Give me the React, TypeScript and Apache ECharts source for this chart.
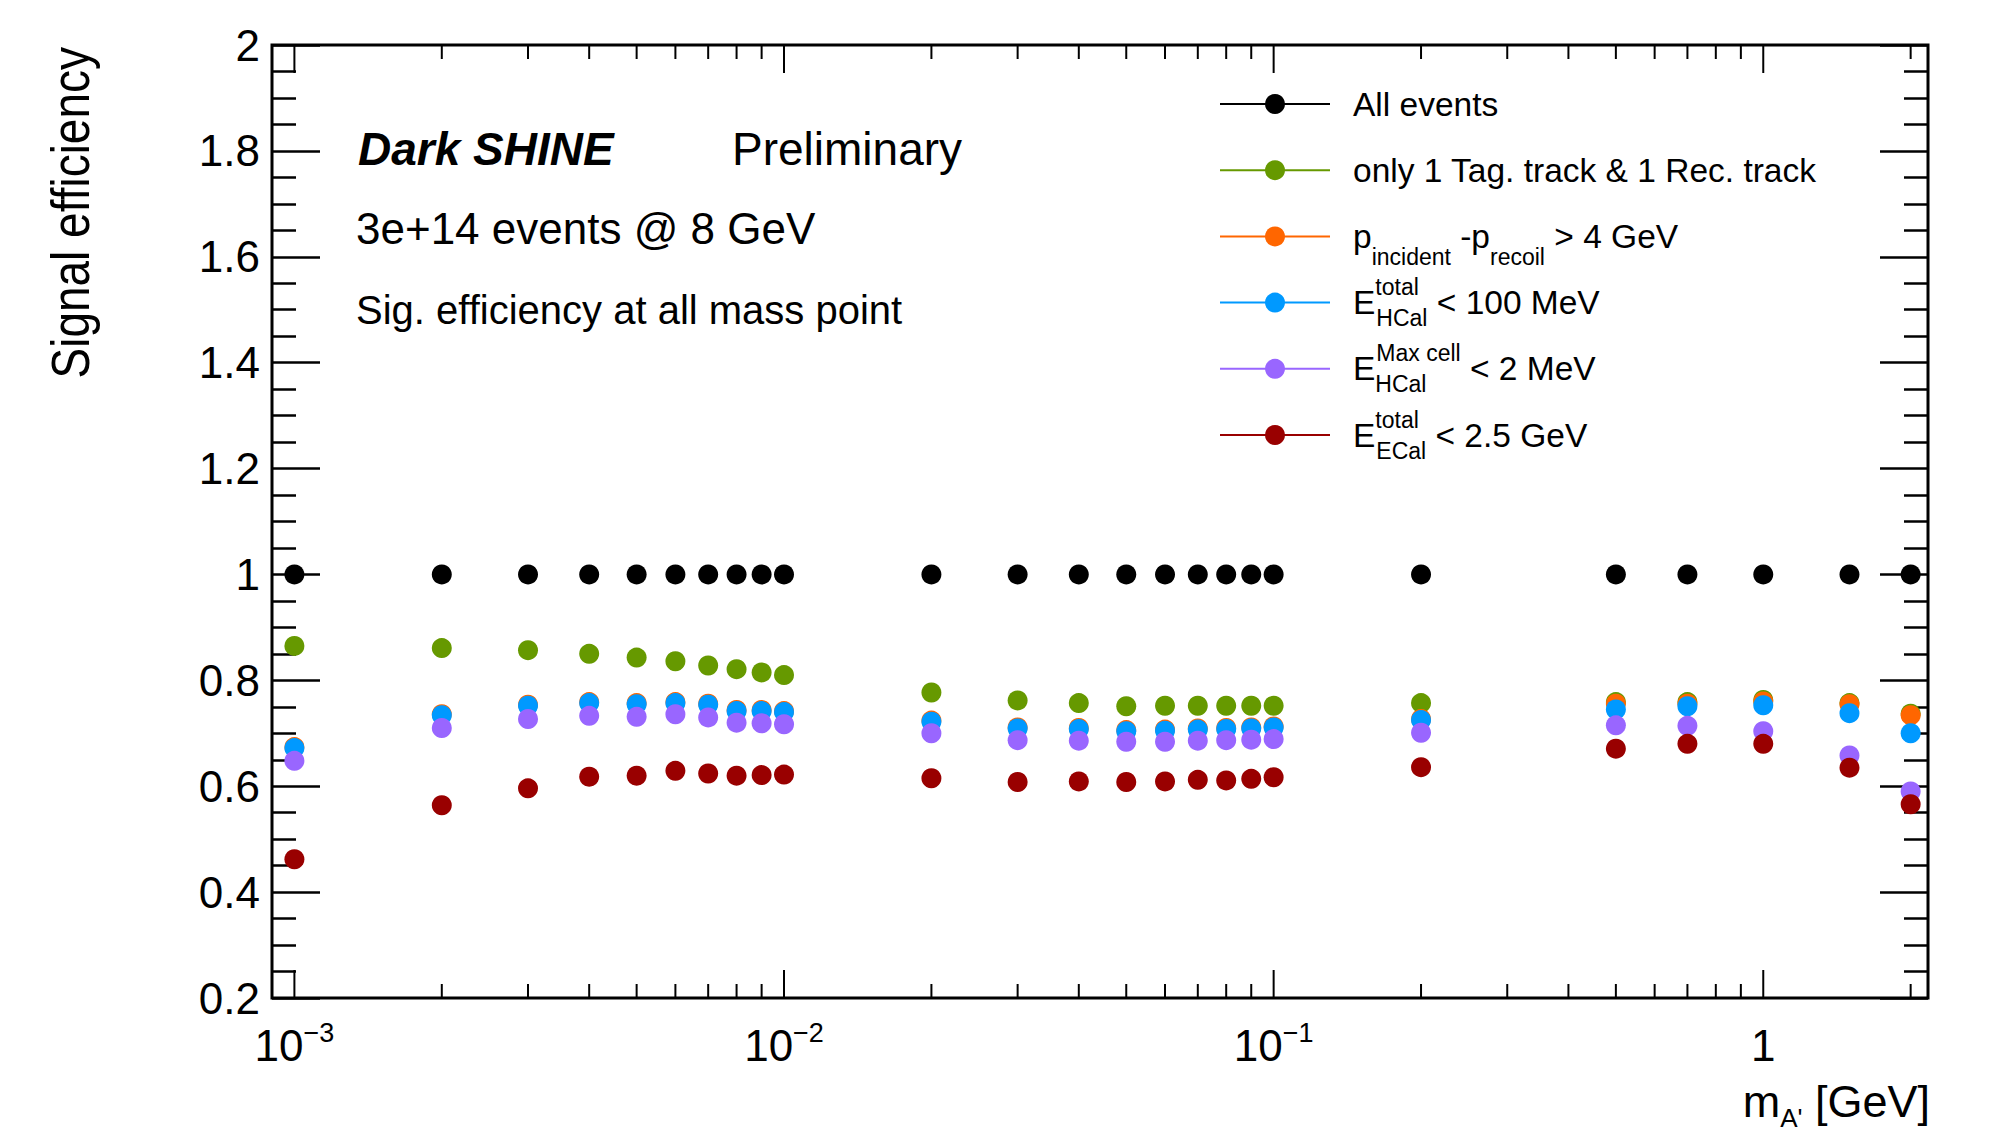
import React, { useEffect, useRef } from 'react';
import * as echarts from 'echarts';

// ---------------- data ----------------
const MASS_GEV = [0.001, 0.002, 0.003, 0.004, 0.005, 0.006, 0.007, 0.008, 0.009, 0.01, 0.02, 0.03, 0.04, 0.05, 0.06, 0.07, 0.08, 0.09, 0.1, 0.2, 0.5, 0.7, 1, 1.5, 2];

const EFF_ALL = [1, 1, 1, 1, 1, 1, 1, 1, 1, 1, 1, 1, 1, 1, 1, 1, 1, 1, 1, 1, 1, 1, 1, 1, 1];
const EFF_TRACK = [0.865, 0.861, 0.857, 0.850, 0.843, 0.836, 0.828, 0.821, 0.815, 0.810, 0.777, 0.762, 0.757, 0.751, 0.752, 0.752, 0.752, 0.752, 0.752, 0.757, 0.759, 0.759, 0.763, 0.757, 0.737];
const EFF_PDIFF = [0.674, 0.736, 0.754, 0.759, 0.757, 0.759, 0.756, 0.744, 0.744, 0.742, 0.724, 0.711, 0.710, 0.706, 0.707, 0.709, 0.710, 0.711, 0.713, 0.727, 0.756, 0.756, 0.760, 0.755, 0.734];
const EFF_HCAL_TOTAL = [0.672, 0.734, 0.752, 0.757, 0.755, 0.757, 0.754, 0.742, 0.742, 0.740, 0.722, 0.709, 0.708, 0.704, 0.705, 0.707, 0.708, 0.709, 0.711, 0.725, 0.745, 0.751, 0.753, 0.738, 0.700];
const EFF_HCAL_MAXCELL = [0.648, 0.710, 0.727, 0.733, 0.731, 0.736, 0.730, 0.720, 0.719, 0.717, 0.700, 0.687, 0.686, 0.684, 0.684, 0.686, 0.687, 0.688, 0.689, 0.701, 0.715, 0.714, 0.704, 0.658, 0.590];
const EFF_ECAL_TOTAL = [0.462, 0.564, 0.596, 0.618, 0.620, 0.629, 0.624, 0.620, 0.621, 0.622, 0.615, 0.608, 0.609, 0.608, 0.609, 0.612, 0.611, 0.614, 0.617, 0.636, 0.671, 0.680, 0.680, 0.635, 0.566];

const SERIES_NAMES = [
  'All events',
  'only 1 Tag. track & 1 Rec. track',
  'p_incident-p_recoil > 4 GeV',
  'E_HCal^total < 100 MeV',
  'E_HCal^Max cell < 2 MeV',
  'E_ECal^total < 2.5 GeV',
];
const LEGEND_LABELS = [
  '{n|All events}',
  '{n|only 1 Tag. track & 1 Rec. track}',
  '{n|p}{sb|incident}{n| -p}{sb|recoil}{n| > 4 GeV}',
  '{m|E}{sp0|total}{sb2|HCal}{m| < 100 MeV}',
  '{m|E}{sb20|HCal}{sp|Max cell}{m| < 2 MeV}',
  '{m|E}{sp0|total}{sb2|ECal}{m| < 2.5 GeV}',
];
const SERIES_VALUES = [EFF_ALL, EFF_TRACK, EFF_PDIFF, EFF_HCAL_TOTAL, EFF_HCAL_MAXCELL, EFF_ECAL_TOTAL];

const X_MAJOR_TICKS = [0.001, 0.01, 0.1, 1];
const X_MINOR_TICKS = [0.002, 0.003, 0.004, 0.005, 0.006, 0.007, 0.008, 0.009, 0.02, 0.03, 0.04, 0.05, 0.06, 0.07, 0.08, 0.09, 0.2, 0.3, 0.4, 0.5, 0.6, 0.7, 0.8, 0.9, 2];

const X_MIN = 0.0009;
const X_MAX = 2.17;
const Y_MIN = 0.2;
const Y_MAX = 2;
const Y_STEP = 0.2;

// ---------------- style ----------------
const COLORS = ['#000000', '#669900', '#ff6600', '#0099ff', '#9966ff', '#990000'];
const FONT = '"Liberation Sans", Arial, Helvetica, sans-serif';
const LEGEND_ROW_CENTERS = [103, 169.2, 235.4, 301.6, 367.8, 434];
// offset from the row centre to the top of each legend's text box
const LEGEND_TOP_OFFSETS = [16, 16, 16, 26, 26, 26];

const tok = (o: any) => ({ fontFamily: FONT, color: '#000', ...o });
const LEGEND_RICH = {
  n: tok({ fontSize: 33.5, lineHeight: 65 }),
  m: tok({ fontSize: 33.5, lineHeight: 54 }),
  sb: tok({ fontSize: 23, lineHeight: 17, verticalAlign: 'bottom' }),
  sb2: tok({ fontSize: 23, lineHeight: 23, verticalAlign: 'bottom' }),
  sb20: tok({ fontSize: 23, lineHeight: 23, verticalAlign: 'bottom', width: 1 }),
  sp: tok({ fontSize: 23, lineHeight: 23, verticalAlign: 'top' }),
  sp0: tok({ fontSize: 23, lineHeight: 23, verticalAlign: 'top', width: 1 }),
};

function buildOption(): any {
  const series: any[] = SERIES_NAMES.map((name, i) => ({
    type: 'line',
    name,
    data: MASS_GEV.map((m, k) => [m, SERIES_VALUES[i][k]]),
    symbol: 'circle',
    symbolSize: 20,
    showSymbol: true,
    itemStyle: { color: COLORS[i], borderWidth: 0 },
    lineStyle: { color: COLORS[i], width: 2, opacity: 0 },
    emphasis: { disabled: true },
    z: 3,
  }));

  series.push({
    type: 'custom',
    name: 'x-ticks',
    silent: true,
    z: 4,
    xAxisIndex: 0,
    yAxisIndex: 0,
    encode: { x: 0, y: 1 },
    data: [...X_MAJOR_TICKS.map((v) => [v, Y_MIN, 1]), ...X_MINOR_TICKS.map((v) => [v, Y_MIN, 0])],
    renderItem: (_params: any, api: any) => {
      const v = api.value(0);
      const major = api.value(2) === 1;
      const len = major ? 28 : 14;
      const b = api.coord([v, Y_MIN]);
      const t = api.coord([v, Y_MAX]);
      const st = { stroke: '#000', lineWidth: 2 };
      return {
        type: 'group',
        children: [
          { type: 'line', shape: { x1: b[0], y1: b[1], x2: b[0], y2: b[1] - len }, style: st },
          { type: 'line', shape: { x1: t[0], y1: t[1], x2: t[0], y2: t[1] + len }, style: st },
        ],
      };
    },
  });

  const legend = SERIES_NAMES.map((name, i) => ({
    data: [name],
    left: 1219,
    top: LEGEND_ROW_CENTERS[i] - LEGEND_TOP_OFFSETS[i],
    orient: 'vertical',
    padding: 0,
    itemWidth: 110,
    itemHeight: 25,
    selectedMode: false,
    lineStyle: { width: 2, opacity: 1 },
    formatter: () => LEGEND_LABELS[i],
    textStyle: { fontFamily: FONT, fontSize: 33.5, color: '#000', padding: [0, 0, 0, 18], rich: LEGEND_RICH },
  }));

  const yAxisCommon = {
    type: 'value',
    min: Y_MIN,
    max: Y_MAX,
    interval: Y_STEP,
    axisLine: { show: false },
    splitLine: { show: false },
    axisTick: { show: true, inside: true, length: 48, lineStyle: { color: '#000', width: 2.5 } },
    minorTick: { show: true, splitNumber: 4, length: 24, lineStyle: { color: '#000', width: 2.5 } },
  };

  return {
    animation: false,
    backgroundColor: '#ffffff',
    grid: {
      left: 272,
      top: 45,
      width: 1656,
      height: 953,
      show: true,
      borderColor: '#000',
      borderWidth: 3,
      backgroundColor: 'transparent',
      containLabel: false,
      outerBoundsMode: 'none',
    },
    xAxis: [
      {
        type: 'log',
        logBase: 10,
        min: X_MIN,
        max: X_MAX,
        position: 'bottom',
        axisLine: { show: false },
        axisTick: { show: false },
        minorTick: { show: false },
        splitLine: { show: false },
        minorSplitLine: { show: false },
        axisLabel: {
          margin: 21,
          formatter: (v: number) => {
            const e = Math.log10(v);
            const r = Math.round(e);
            if (Math.abs(e - r) > 1e-6) return '';
            if (r === 0) return '{b|1}';
            return r < 0 ? `{b|10}{s|\u2212${-r}}` : `{b|10}{s|${r}}`;
          },
          rich: {
            b: tok({ fontSize: 44, lineHeight: 52 }),
            s: tok({ fontSize: 27, lineHeight: 18, verticalAlign: 'top' }),
          },
        },
      },
    ],
    yAxis: [
      {
        ...yAxisCommon,
        position: 'left',
        axisLabel: {
          margin: 12,
          fontFamily: FONT,
          fontSize: 44,
          color: '#000',
          formatter: (v: number) => String(parseFloat(v.toFixed(1))),
        },
      },
      {
        ...yAxisCommon,
        position: 'right',
        axisLabel: { show: false },
      },
    ],
    legend,
    series,
    graphic: [
      {
        type: 'text',
        x: 71,
        y: 47,
        rotation: Math.PI / 2,
        scaleY: 1.15,
        style: { text: 'Signal efficiency', fontFamily: FONT, fontSize: 46, fill: '#000', align: 'right', verticalAlign: 'middle' },
      },
      {
        type: 'text',
        x: 1930,
        y: 1101,
        style: {
          text: "{n|m}{s|A'}{n| [GeV]}",
          align: 'right',
          verticalAlign: 'middle',
          rich: {
            n: tok({ fontSize: 45, lineHeight: 60 }),
            s: tok({ fontSize: 26, lineHeight: 26, verticalAlign: 'bottom' }),
          },
        },
      },
      {
        type: 'text',
        x: 358,
        y: 149,
        style: { text: 'Dark SHINE', fontFamily: FONT, fontSize: 46, fontWeight: 'bold', fontStyle: 'italic', fill: '#000', align: 'left', verticalAlign: 'middle' },
      },
      {
        type: 'text',
        x: 732,
        y: 149,
        style: { text: 'Preliminary', fontFamily: FONT, fontSize: 46, fill: '#000', align: 'left', verticalAlign: 'middle' },
      },
      {
        type: 'text',
        x: 356,
        y: 228,
        style: { text: '3e+14 events @ 8 GeV', fontFamily: FONT, fontSize: 44, fill: '#000', align: 'left', verticalAlign: 'middle' },
      },
      {
        type: 'text',
        x: 356,
        y: 310,
        style: { text: 'Sig. efficiency at all mass point', fontFamily: FONT, fontSize: 40, fill: '#000', align: 'left', verticalAlign: 'middle' },
      },
    ],
  };
}

export default function App() {
  const ref = useRef<HTMLDivElement>(null);
  useEffect(() => {
    if (!ref.current) return;
    const chart = echarts.init(ref.current, null, { renderer: 'svg' });
    chart.setOption(buildOption());
    return () => chart.dispose();
  }, []);
  return (
    <div
      ref={ref}
      style={{ position: 'absolute', left: 0, top: 0, width: 2005, height: 1132, background: '#ffffff' }}
    />
  );
}
